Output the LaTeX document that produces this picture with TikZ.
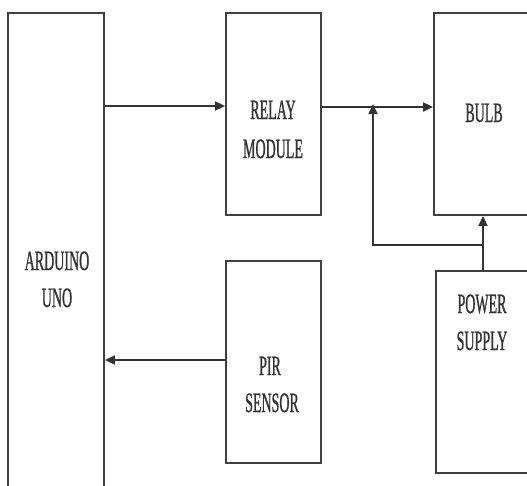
\documentclass[tikz,border=0pt]{standalone}
\usepackage{fontspec}
\setmainfont{Liberation Serif}[FakeStretch=0.5,FakeBold=0.8]
\usetikzlibrary{arrows.meta}
\begin{document}
\begin{tikzpicture}[x=1pt,y=-1pt,
  blockbox/.style={draw=black!75,line width=1.8pt,rectangle,inner sep=0pt,fill=none},
  lbl/.style={anchor=base,inner sep=0pt,text=black!80,font=\fontsize{28}{38}\selectfont},
  conn/.style={draw=black!80,line width=1.7pt},
  arr/.style={conn,-{Triangle[length=10pt,width=9pt]}}]
\useasboundingbox (0,0) rectangle (527,485);
\clip (0,0) rectangle (527,485);
\fill[white] (0,0) rectangle (527,485);
% boxes
\node[blockbox,minimum width=96pt,minimum height=492pt] (ard) at (56,259) {};
\node[blockbox,minimum width=95pt,minimum height=202pt] (relay) at (273.5,114) {};
\node[blockbox,minimum width=110pt,minimum height=202pt] (bulb) at (489,114) {};
\node[blockbox,minimum width=95pt,minimum height=202pt] (pir) at (273.5,362) {};
\node[blockbox,minimum width=110pt,minimum height=202pt] (pwr) at (491,372) {};
% labels
\node[lbl] (t1) at (57,270) {ARDUINO};
\node[lbl] (t2) at (57,307) {UNO};
\node[lbl] (t3) at (273,119) {RELAY};
\node[lbl] (t4) at (273,158) {MODULE};
\node[lbl] (t5) at (484,122) {BULB};
\node[lbl] (t6) at (270,375) {PIR};
\node[lbl] (t7) at (272,412) {SENSOR};
\node[lbl] (t8) at (482,313) {POWER};
\node[lbl] (t9) at (482,350) {SUPPLY};
% helper coordinates
\coordinate (y1) at (0,106);
\coordinate (y2) at (0,107);
\coordinate (y3) at (0,360);
\coordinate (j) at (373,107);
\coordinate (pv) at (483,0);
\coordinate (jb) at (373,245);
\coordinate (pb) at (483,245);
% connectors
\draw[arr] (ard.east |- y1) -- (relay.west |- y1);
\draw[arr] (relay.east |- y2) -- (bulb.west |- y2);
\draw[arr] (pir.west |- y3) -- (ard.east |- y3);
\draw[arr] (pwr.north -| pv) -- (bulb.south -| pv);
\draw[arr] (pb) -- (jb) -- ([yshift=3pt]j);
\end{tikzpicture}
\end{document}
